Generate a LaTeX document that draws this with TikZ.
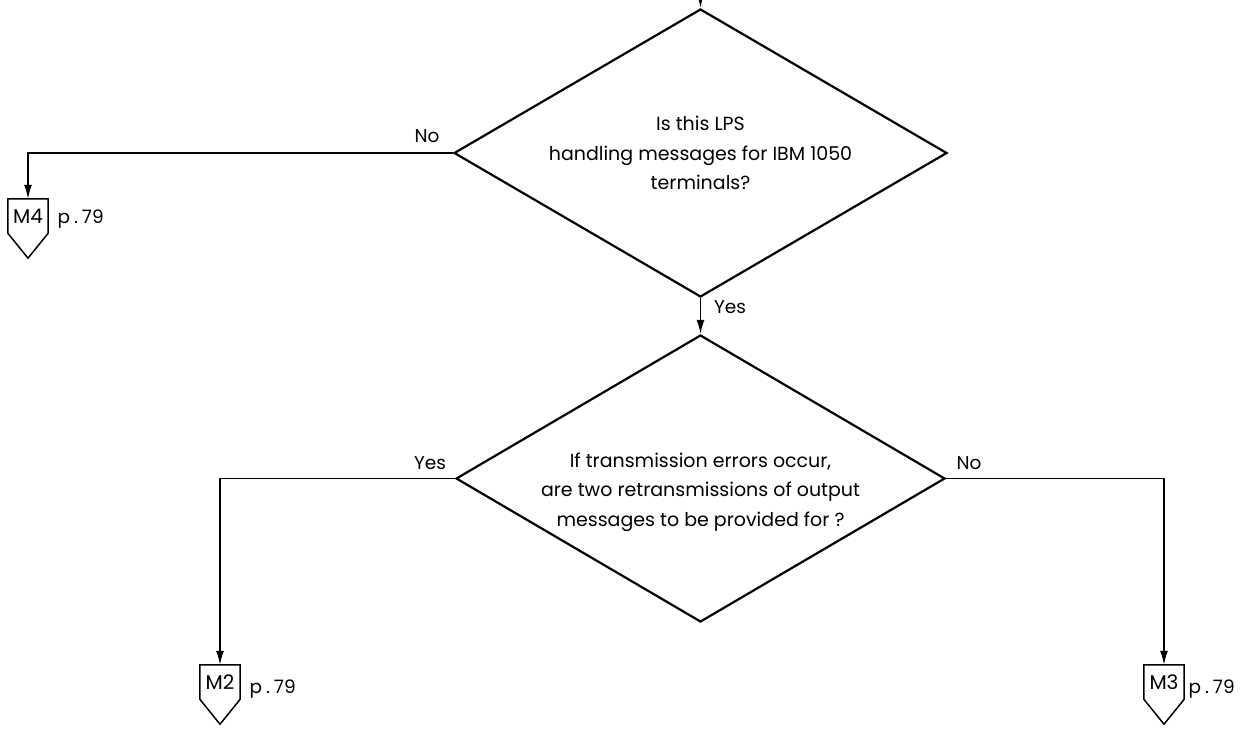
\documentclass[tikz,border=0pt]{standalone}
\usepackage{fontspec}
\setmainfont{Poppins}
\usetikzlibrary{shapes.geometric,arrows.meta}
\newcommand{\pgref}{p\kern4pt.\kern4pt79}
\begin{document}
\begin{tikzpicture}[x=1pt,y=-1pt,
  decision/.style={draw,diamond,line width=2.2pt,inner sep=0pt,line join=miter},
  question/.style={align=center,font=\fontsize{19}{29.5}\selectfont},
  lbl/.style={font=\fontsize{18.5}{20}\selectfont},
  offpage/.style={minimum width=40pt,minimum height=34pt,inner sep=0pt,font=\fontsize{20}{22}\selectfont},
  flow/.style={line width=1.5pt,-{Latex[length=14pt,width=8pt]}}]
\useasboundingbox (0,0) rectangle (1241,728);
% decisions
\node[decision,minimum width=493pt,minimum height=288pt] (d1) at (700.5,153) {};
\node[question] (q1) at (700.5,153) {Is this LPS\\handling messages for IBM 1050\\terminals?};
\node[decision,minimum width=489pt,minimum height=287pt] (d2) at (700.5,478.5) {};
\node[question] (q2) at (700.5,492) {If transmission errors occur,\\are two retransmissions of output\\messages to be provided for ?};
% off-page connectors
\node[offpage] (m4) at (28,216) {M4};
\node[offpage] (m2) at (220,682) {M2};
\node[offpage] (m3) at (1164,682) {M3};
\foreach \m in {m4,m2,m3}
  \draw[line width=1.5pt,line join=miter] (\m.north west) -- (\m.north east) -- (\m.south east)
    -- ([yshift=-25pt]\m.south) -- (\m.south west) -- cycle;
\node[lbl,anchor=west] (p4) at (54,219) {\pgref};
\node[lbl,anchor=west] (p2) at (246,689) {\pgref};
\node[lbl,anchor=west] (p3) at (1185,689) {\pgref};
% entry from above
\coordinate (entry) at (700.5,-5);
\draw[flow] (entry) -- (d1.north);
% connectors
\draw[flow] (d1.west) -| (m4.north);
\draw[flow] (d1.south) -- (d2.north);
\draw[flow] (d2.west) -| (m2.north);
\draw[flow] (d2.east) -| (m3.north);
% branch labels
\node[lbl] (n1) at (427,136) {No};
\node[lbl] (y1) at (730,307) {Yes};
\node[lbl] (y2) at (430,463) {Yes};
\node[lbl] (n2) at (969,463) {No};
\end{tikzpicture}
\end{document}
